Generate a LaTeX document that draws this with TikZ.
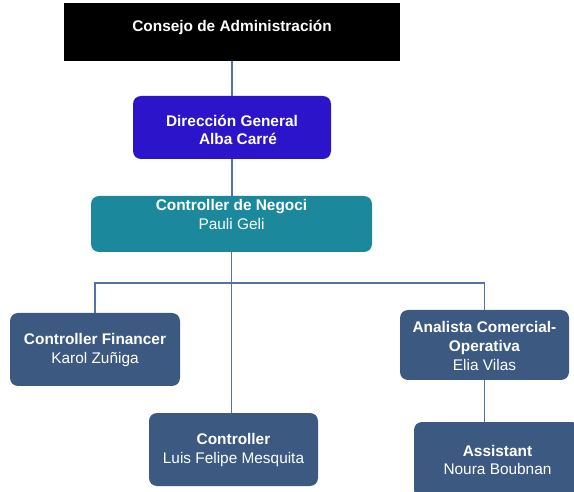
\documentclass[tikz,border=0pt]{standalone}
\usepackage{fontspec}
\setmainfont{Liberation Sans}
\definecolor{boardblack}{HTML}{000000}
\definecolor{dirblue}{HTML}{2C14CA}
\definecolor{negteal}{HTML}{1B899B}
\definecolor{staffblue}{HTML}{3C5A81}
\definecolor{linkblue}{HTML}{5474A8}
\begin{document}
\begin{tikzpicture}[x=1pt,y=-1pt,
  box/.style={draw=none,inner sep=0pt,rounded corners=8pt},
  lbl/.style={text=white,align=center,inner sep=0pt,
    font=\fontsize{15.4}{18.8}\selectfont},
  link/.style={draw=linkblue,line width=1.1pt}]
\useasboundingbox (0,0) rectangle (574,492);

% boxes
\node[box,fill=boardblack,rounded corners=0pt,minimum width=336,minimum height=58] (cons) at (232,32) {};
\node[box,fill=dirblue,minimum width=198,minimum height=63] (dir) at (232,127.5) {};
\node[box,fill=negteal,minimum width=281,minimum height=56] (neg) at (231.5,224) {};
\node[box,fill=staffblue,minimum width=170,minimum height=73] (fin) at (95,349.5) {};
\node[box,fill=staffblue,minimum width=169,minimum height=70] (ana) at (484.5,345) {};
\node[box,fill=staffblue,minimum width=169,minimum height=73] (ctl) at (233.5,449.5) {};
\node[box,fill=staffblue,minimum width=166,minimum height=76] (asst) at (497,460) {};

% texts
\node[lbl] (cons-t) at (232,27) {\bfseries Consejo de Administración};
\node[lbl] (dir-t) at (232,130) {\bfseries Dirección General\\\bfseries\hspace*{12pt}Alba Carré};
\node[lbl] (neg-t) at (231.5,214.5) {\bfseries Controller de Negoci\\Pauli Geli};
\node[lbl] (fin-t) at (95,350) {\bfseries Controller Financer\\Karol Zuñiga};
\node[lbl] (ana-t) at (484.5,346) {\bfseries Analista Comercial-\\\bfseries Operativa\\Elia Vilas};
\node[lbl] (ctl-t) at (233.5,450) {\bfseries Controller\\Luis Felipe Mesquita};
\node[lbl] (asst-t) at (497.5,460) {\bfseries Assistant\\Noura Boubnan};

% connectors
\coordinate (bus) at (231.5,283);
\draw[link] (cons.south) -- (dir.north);
\draw[link] (dir.south) -- (dir.south |- neg.north);
\draw[link] (neg.south) -- (neg.south |- ctl.north);
\draw[link] (fin.north) |- (bus) -| (ana.north);
\draw[link] (ana.south) -- (ana.south |- asst.north);
\end{tikzpicture}
\end{document}
